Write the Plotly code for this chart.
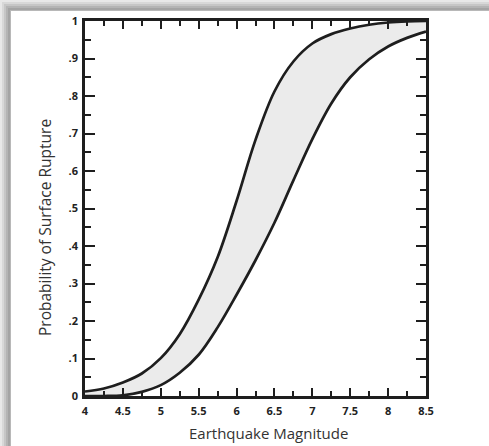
import plotly.graph_objects as go

# ---- data ----
magnitude = [4.0, 4.25, 4.5, 4.75, 5.0, 5.25, 5.5, 5.75, 6.0, 6.25, 6.5,
             6.75, 7.0, 7.25, 7.5, 7.75, 8.0, 8.25, 8.5]
upper_prob = [0.012, 0.02, 0.036, 0.06, 0.101, 0.165, 0.257, 0.37, 0.52,
              0.683, 0.812, 0.892, 0.94, 0.965, 0.98, 0.99, 0.996, 0.999, 1.0]
lower_prob = [0.0, 0.0, 0.002, 0.011, 0.029, 0.062, 0.11, 0.183, 0.27,
              0.362, 0.462, 0.575, 0.685, 0.78, 0.85, 0.898, 0.932, 0.955, 0.972]

x_tickvals = [4, 4.5, 5, 5.5, 6, 6.5, 7, 7.5, 8, 8.5]
x_ticktext = ["4", "4.5", "5", "5.5", "6", "6.5", "7", "7.5", "8", "8.5"]
y_tickvals = [0, 0.1, 0.2, 0.3, 0.4, 0.5, 0.6, 0.7, 0.8, 0.9, 1.0]
y_ticktext = ["0", ".1", ".2", ".3", ".4", ".5", ".6", ".7", ".8", ".9", "1"]

x_title = "Earthquake Magnitude"
y_title = "Probability of Surface Rupture"

W, H = 489, 446
L, R, T, B = 85, 63, 21, 50
PW, PH = W - L - R, H - T - B

def px_to_paper_x(px):
    return (px - L) / PW

def px_to_paper_y(py):
    return 1 - (py - T) / PH

LINE = "#1e1e1e"
FONT = "Open Sans"

fig = go.Figure()
fig.add_trace(go.Scatter(x=magnitude, y=lower_prob, mode="lines",
                         line=dict(color=LINE, width=2.7, shape="spline", smoothing=1.0),
                         hoverinfo="skip", showlegend=False, cliponaxis=False))
fig.add_trace(go.Scatter(x=magnitude, y=upper_prob, mode="lines",
                         line=dict(color=LINE, width=2.7, shape="spline", smoothing=1.0),
                         fill="tonexty", fillcolor="#ebebeb",
                         hoverinfo="skip", showlegend=False, cliponaxis=False))

# drop-shadow bands of the card (top and left), light outside -> darker at card edge
shadow = [("#e8e8e8", 0, 2), ("#d8d8d8", 2, 4), ("#c6c6c6", 4, 6),
          ("#b4b4b4", 6, 8), ("#a4a4a4", 8, 10), ("#b8b8b8", 10, 11)]
shapes = []
for col, a, b in shadow:
    shapes.append(dict(type="rect", xref="paper", yref="paper", layer="below",
                       x0=px_to_paper_x(a), x1=px_to_paper_x(W),
                       y0=px_to_paper_y(a), y1=px_to_paper_y(b),
                       fillcolor=col, line=dict(width=0)))
    shapes.append(dict(type="rect", xref="paper", yref="paper", layer="below",
                       x0=px_to_paper_x(a), x1=px_to_paper_x(b),
                       y0=px_to_paper_y(a), y1=px_to_paper_y(H),
                       fillcolor=col, line=dict(width=0)))

tickfont = dict(family=FONT, size=11, color="#222", weight=700)

fig.update_layout(
    width=W, height=H,
    margin=dict(l=L, r=R, t=T, b=B, pad=0),
    paper_bgcolor="white", plot_bgcolor="white",
    shapes=shapes,
    xaxis=dict(range=[4, 8.5], tickvals=x_tickvals, ticktext=x_ticktext,
               ticks="inside", ticklen=8, tickwidth=2, tickcolor=LINE,
               minor=dict(ticks="inside", ticklen=5, tickwidth=2, tickcolor=LINE, dtick=0.25),
               showline=True, linewidth=2.8, linecolor=LINE, mirror="allticks",
               showgrid=False, zeroline=False, tickfont=tickfont, fixedrange=True,
               ticklabelstandoff=3),
    yaxis=dict(range=[0, 1], tickvals=y_tickvals, ticktext=y_ticktext,
               ticks="inside", ticklen=10, tickwidth=2, tickcolor=LINE,
               minor=dict(ticks="inside", ticklen=6, tickwidth=2, tickcolor=LINE, dtick=0.05),
               showline=True, linewidth=2.8, linecolor=LINE, mirror="allticks",
               showgrid=False, zeroline=False, tickfont=tickfont, fixedrange=True,
               ticklabelstandoff=2),
    annotations=[
        dict(text=x_title, xref="paper", yref="paper",
             x=px_to_paper_x(268), y=px_to_paper_y(433), showarrow=False,
             xanchor="center", yanchor="middle",
             font=dict(family=FONT, size=15, color="#333")),
        dict(text=y_title, xref="paper", yref="paper",
             x=px_to_paper_x(45), y=px_to_paper_y(228), showarrow=False,
             xanchor="center", yanchor="middle", textangle=-90,
             font=dict(family=FONT, size=15.5, color="#333")),
    ],
)

fig.write_html("out.html", config={"displayModeBar": False, "staticPlot": True},
               post_script="document.body.style.margin='0';document.body.style.overflow='hidden';")
